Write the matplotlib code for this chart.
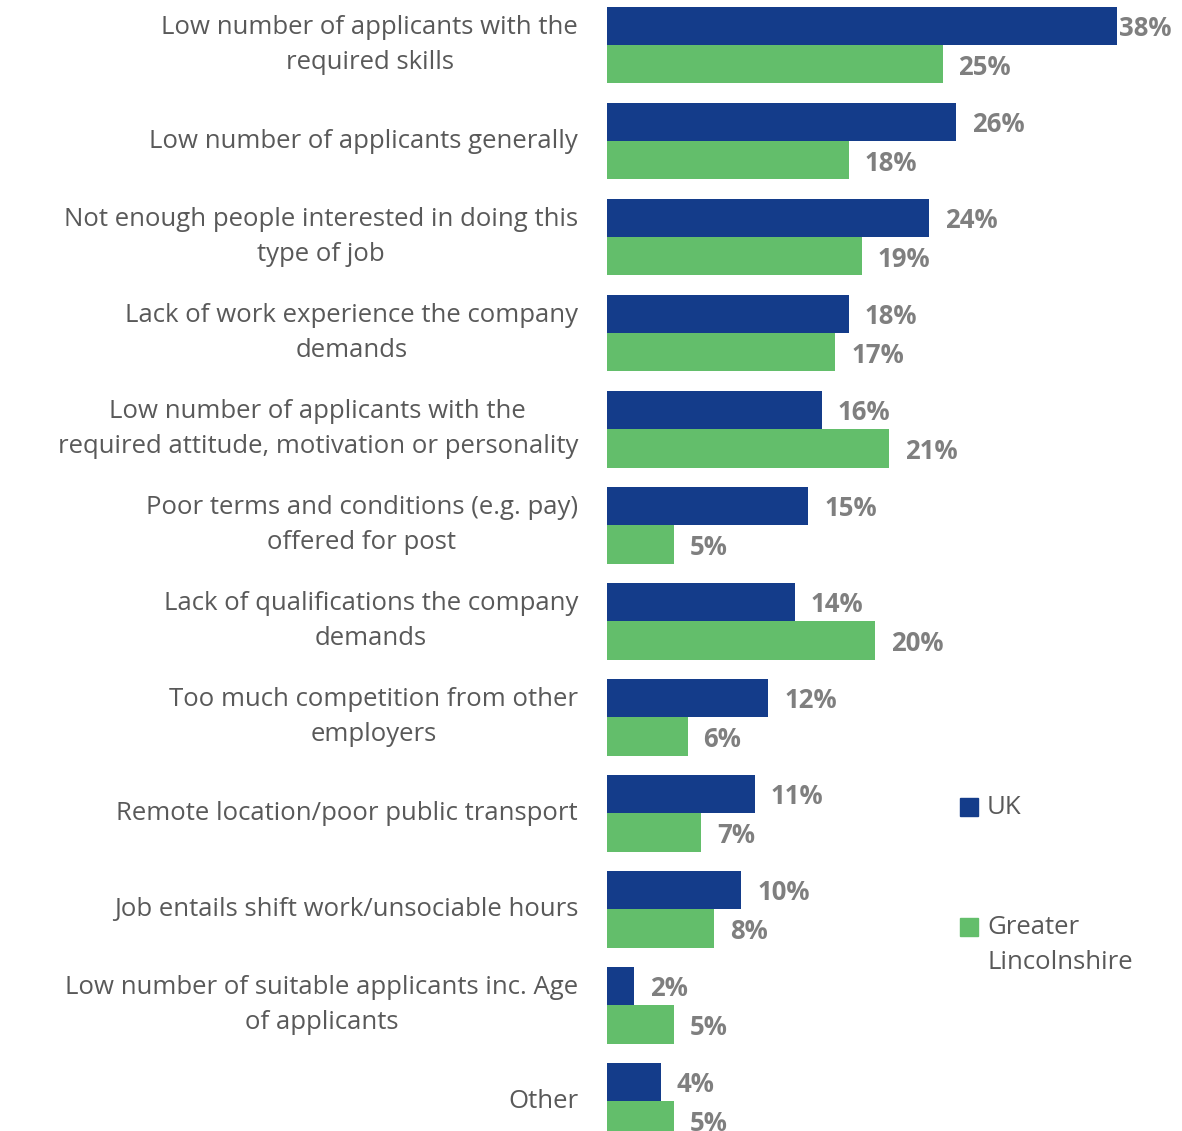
import matplotlib.pyplot as plt
from matplotlib.patches import Rectangle

categories = [
    "Low number of applicants with the\nrequired skills",
    "Low number of applicants generally",
    "Not enough people interested in doing this\ntype of job",
    "Lack of work experience the company\ndemands",
    "Low number of applicants with the\nrequired attitude, motivation or personality",
    "Poor terms and conditions (e.g. pay)\noffered for post",
    "Lack of qualifications the company\ndemands",
    "Too much competition from other\nemployers",
    "Remote location/poor public transport",
    "Job entails shift work/unsociable hours",
    "Low number of suitable applicants inc. Age\nof applicants",
    "Other",
]
uk = [38, 26, 24, 18, 16, 15, 14, 12, 11, 10, 2, 4]
lincs = [25, 18, 19, 17, 21, 5, 20, 6, 7, 8, 5, 5]
series_names = ["UK", "Greater\nLincolnshire"]

BLUE = "#143C8A"
GREEN = "#63BE6B"
TEXT = "#595959"
VALUE = "#7F7F7F"

plt.rcParams["font.family"] = ["Open Sans", "DejaVu Sans"]

W, H = 1182, 1131
fig = plt.figure(figsize=(W / 100, H / 100), dpi=100)
ax_left = 607 / W
ax = fig.add_axes([ax_left, 0, 1 - ax_left, 1])
px_per_pct = (1117 - 607) / 38
ax.set_xlim(0, (W - 607) / px_per_pct)
ax.set_ylim(11.31, -0.469)
ax.axis("off")

bar_h = 0.40
ys = list(range(len(categories)))
ax.barh([y - bar_h / 2 for y in ys], uk, height=bar_h, color=BLUE)
ax.barh([y + bar_h / 2 for y in ys], lincs, height=bar_h, color=GREEN)

# labels sit ~16px right of the bar, but never past the right edge
max_x = (1119 - 607) / px_per_pct
pad = 16 / px_per_pct
for y, a, b in zip(ys, uk, lincs):
    ax.text(min(a + pad, max_x), y - bar_h / 2 + 0.03, f"{a}%", va="center", ha="left",
            fontsize=18.5, weight="bold", color=VALUE)
    ax.text(min(b + pad, max_x), y + bar_h / 2 + 0.03, f"{b}%", va="center", ha="left",
            fontsize=18.5, weight="bold", color=VALUE)

label_x = -29 / px_per_pct
for y, cat in zip(ys, categories):
    ax.text(label_x, y, cat, ha="right", va="center", multialignment="center",
            fontsize=18.5, color=TEXT, linespacing=1.55, clip_on=False)

# legend
for (sy, name), col in zip([(807, series_names[0]), (927, series_names[1])], [BLUE, GREEN]):
    fig.add_artist(Rectangle((960 / W, 1 - (sy + 9) / H), 18 / W, 18 / H,
                             transform=fig.transFigure, color=col))
    fig.text(987 / W, 1 - (sy - 12) / H, name, ha="left", va="top",
             fontsize=18.5, color=TEXT, linespacing=1.55)

fig.savefig("out.png", dpi=100)
